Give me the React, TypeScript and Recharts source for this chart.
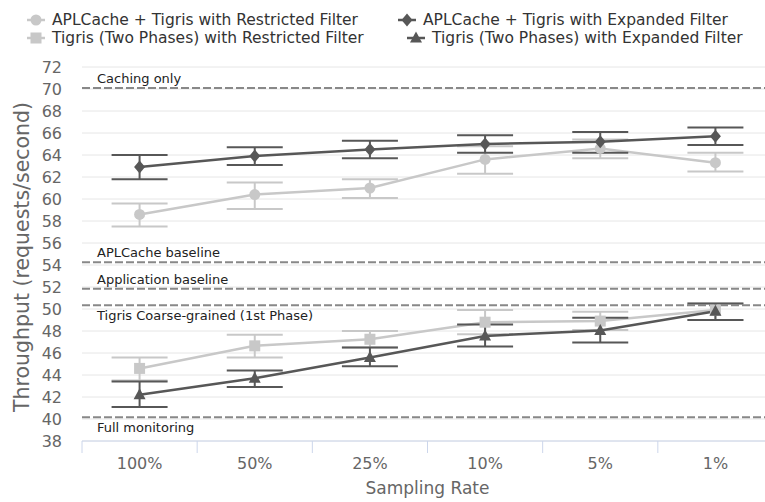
import React from "react";
import { ComposedChart, Line, XAxis, YAxis, CartesianGrid, ReferenceLine, ErrorBar, Legend } from "recharts";

const rates = ["100%", "50%", "25%", "10%", "5%", "1%"];

// APLCache + Tigris, restricted filter (light circles)
const aplRestricted = [58.6, 60.4, 61.0, 63.6, 64.6, 63.3];
const aplRestrictedLo = [57.5, 59.1, 60.1, 62.3, 63.7, 62.5];
const aplRestrictedHi = [59.6, 61.5, 61.8, 64.8, 65.4, 64.2];

// APLCache + Tigris, expanded filter (dark diamonds)
const aplExpanded = [62.9, 63.9, 64.5, 65.0, 65.2, 65.7];
const aplExpandedLo = [61.8, 63.1, 63.7, 64.2, 64.2, 64.9];
const aplExpandedHi = [64.0, 64.7, 65.3, 65.8, 66.1, 66.5];

// Tigris two phases, restricted filter (light squares)
const tigRestricted = [44.6, 46.65, 47.25, 48.8, 48.9, 49.9];
const tigRestrictedLo = [43.5, 45.6, 46.5, 47.7, 48.1, 49.0];
const tigRestrictedHi = [45.6, 47.65, 48.0, 49.9, 49.75, 50.5];

// Tigris two phases, expanded filter (dark triangles)
const tigExpanded = [42.2, 43.7, 45.6, 47.55, 48.05, 49.8];
const tigExpandedLo = [41.1, 42.9, 44.8, 46.6, 46.95, 49.0];
const tigExpandedHi = [43.4, 44.4, 46.5, 48.6, 49.2, 50.5];

const baselineNames = ["Caching only", "APLCache baseline", "Application baseline", "Tigris Coarse-grained (1st Phase)", "Full monitoring"];
const baselineValues = [70.1, 54.25, 51.85, 50.33, 40.15];
const baselineAbove = [true, true, true, false, false];

const yTicks = [38, 40, 42, 44, 46, 48, 50, 52, 54, 56, 58, 60, 62, 64, 66, 68, 70, 72];

const LIGHT = "#c8c8c8";
const DARK = "#575757";
const AXIS = "#ccd6eb";
const FONT = "'DejaVu Sans', Verdana, sans-serif";

const err = (v: number[], lo: number[], hi: number[], i: number) => [+(v[i] - lo[i]).toFixed(2), +(hi[i] - v[i]).toFixed(2)];

const data = rates.map((rate, i) => ({
  rate,
  aplR: aplRestricted[i],
  aplRErr: err(aplRestricted, aplRestrictedLo, aplRestrictedHi, i),
  aplE: aplExpanded[i],
  aplEErr: err(aplExpanded, aplExpandedLo, aplExpandedHi, i),
  tigR: tigRestricted[i],
  tigRErr: err(tigRestricted, tigRestrictedLo, tigRestrictedHi, i),
  tigE: tigExpanded[i],
  tigEErr: err(tigExpanded, tigExpandedLo, tigExpandedHi, i),
}));

type Shape = "circle" | "diamond" | "square" | "triangle";

function marker(shape: Shape, cx: number, cy: number, fill: string, key?: string) {
  if (shape === "circle") return <circle key={key} cx={cx} cy={cy} r={5.5} fill={fill} />;
  if (shape === "square") return <rect key={key} x={cx - 5.5} y={cy - 5.5} width={11} height={11} fill={fill} />;
  if (shape === "diamond")
    return <path key={key} d={`M${cx},${cy - 6.5}L${cx + 5.5},${cy}L${cx},${cy + 6.5}L${cx - 5.5},${cy}Z`} fill={fill} />;
  return <path key={key} d={`M${cx},${cy - 6.5}L${cx + 6},${cy + 4.5}L${cx - 6},${cy + 4.5}Z`} fill={fill} />;
}

const dotFor = (shape: Shape, fill: string) => (p: any) => marker(shape, p.cx, p.cy, fill, `${shape}-${p.index}`);

const legendItems = [
  { name: "APLCache + Tigris with Restricted Filter", shape: "circle" as Shape, color: LIGHT, x: 26, y: 20 },
  { name: "APLCache + Tigris with Expanded Filter", shape: "diamond" as Shape, color: DARK, x: 397, y: 20 },
  { name: "Tigris (Two Phases) with Restricted Filter", shape: "square" as Shape, color: LIGHT, x: 26, y: 38 },
  { name: "Tigris (Two Phases) with Expanded Filter", shape: "triangle" as Shape, color: DARK, x: 406, y: 38 },
];

function ChartLegend() {
  return (
    <div style={{ position: "relative", width: 765, height: 50, fontFamily: FONT }}>
      {legendItems.map((it) => (
        <div key={it.name} style={{ position: "absolute", left: it.x, top: it.y - 9, height: 18, display: "flex", alignItems: "center", whiteSpace: "nowrap" }}>
          <svg width={20} height={14} style={{ marginRight: 6 }}>
            <line x1={1} y1={7} x2={19} y2={7} stroke={it.color} strokeWidth={2.5} />
            {marker(it.shape, 10, 7, it.color)}
          </svg>
          <span style={{ fontSize: 15.5, color: "#333", lineHeight: "18px" }}>{it.name}</span>
        </div>
      ))}
    </div>
  );
}

// category label at band centre, tick mark at the band's left (and last right) edge
function RateTick(props: any) {
  const { x, y, payload, index } = props;
  const half = payload.offset || 0;
  return (
    <g>
      <line x1={x - half} y1={y} x2={x - half} y2={y + 12} stroke={AXIS} />
      {index === rates.length - 1 && <line x1={x + half} y1={y} x2={x + half} y2={y + 12} stroke={AXIS} />}
      <text x={x} y={y + 28} textAnchor="middle" fill="#666" fontSize={16} fontFamily={FONT}>
        {payload.value}
      </text>
    </g>
  );
}

const refLabel = (text: string, above: boolean) => (props: any) => {
  const vb = props.viewBox || { x: 82, y: 0 };
  return (
    <text x={vb.x + 15} y={above ? vb.y - 5 : vb.y + 15} fill="#222" fontSize={13} fontFamily={FONT}>
      {text}
    </text>
  );
};

const yTitle = (props: any) => {
  const vb = props.viewBox || { y: 67, height: 374 };
  const cx = 22;
  const cy = vb.y + vb.height / 2 + 3;
  return (
    <text x={cx} y={cy} transform={`rotate(-90 ${cx} ${cy})`} textAnchor="middle" dominantBaseline="central" fill="#666" fontSize={20.5} fontFamily={FONT}>
      Throughput (requests/second)
    </text>
  );
};

export default function App() {
  return (
    <div style={{ position: "fixed", left: 0, top: 0, width: 765, height: 502, overflow: "hidden", background: "#fff", fontFamily: FONT }}>
      <ComposedChart width={780} height={502} data={data} margin={{ top: 67, right: 7, bottom: 0, left: 22 }}>
        <CartesianGrid vertical={false} stroke="#e6e6e6" />
        <XAxis
          dataKey="rate"
          scale="band"
          height={61}
          axisLine={{ stroke: AXIS }}
          tickLine={false}
          tickSize={0}
          tickMargin={0}
          interval={0}
          tick={<RateTick />}
          label={{ value: "Sampling Rate", position: "insideBottom", offset: 8, fill: "#666", fontSize: 17 }}
        />
        <YAxis
          domain={[38, 72]}
          ticks={yTicks}
          interval={0}
          width={60}
          axisLine={false}
          tickLine={false}
          tickSize={0}
          tickMargin={20}
          tick={{ fill: "#666", fontSize: 16 }}
          label={yTitle}
        />
        <Legend layout="horizontal" verticalAlign="middle" align="center" wrapperStyle={{ top: 0, left: 0, width: 765 }} content={() => <ChartLegend />} />
        {baselineValues.map((v, i) => (
          <ReferenceLine key={baselineNames[i]} y={v} stroke="#888" strokeWidth={2} strokeDasharray="8 3" label={refLabel(baselineNames[i], baselineAbove[i])} />
        ))}
        <Line dataKey="aplR" name="APLCache + Tigris with Restricted Filter" stroke={LIGHT} strokeWidth={2.5} dot={dotFor("circle", LIGHT)} activeDot={false} isAnimationActive={false}>
          <ErrorBar dataKey="aplRErr" width={28} stroke={LIGHT} strokeWidth={2} direction="y" />
        </Line>
        <Line dataKey="tigR" name="Tigris (Two Phases) with Restricted Filter" stroke={LIGHT} strokeWidth={2.5} dot={dotFor("square", LIGHT)} activeDot={false} isAnimationActive={false}>
          <ErrorBar dataKey="tigRErr" width={28} stroke={LIGHT} strokeWidth={2} direction="y" />
        </Line>
        <Line dataKey="aplE" name="APLCache + Tigris with Expanded Filter" stroke={DARK} strokeWidth={2.5} dot={dotFor("diamond", DARK)} activeDot={false} isAnimationActive={false}>
          <ErrorBar dataKey="aplEErr" width={28} stroke={DARK} strokeWidth={2} direction="y" />
        </Line>
        <Line dataKey="tigE" name="Tigris (Two Phases) with Expanded Filter" stroke={DARK} strokeWidth={2.5} dot={dotFor("triangle", DARK)} activeDot={false} isAnimationActive={false}>
          <ErrorBar dataKey="tigEErr" width={28} stroke={DARK} strokeWidth={2} direction="y" />
        </Line>
      </ComposedChart>
    </div>
  );
}
